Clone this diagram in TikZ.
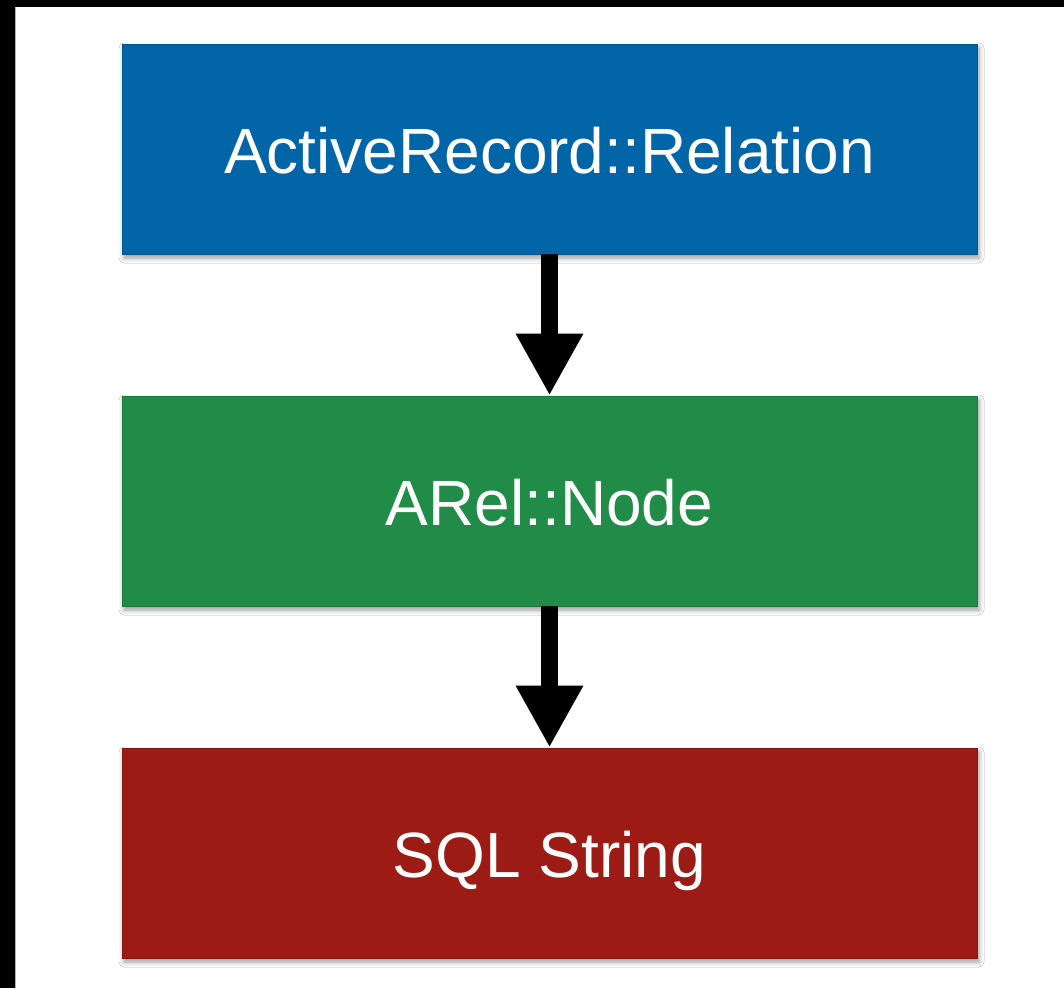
\documentclass[tikz,border=0pt]{standalone}
\usepackage{fontspec}
\setmainfont{Liberation Sans}
\usetikzlibrary{arrows.meta,shadows.blur}
\definecolor{relblue}{RGB}{2,101,167}
\definecolor{relgreen}{RGB}{32,140,72}
\definecolor{relred}{RGB}{156,27,20}
\tikzset{
  x=1pt, y=-1pt,
  stage/.style={rectangle, minimum width=855pt, minimum height=210pt,
    inner sep=0pt, text=white, font=\fontsize{64}{64}\selectfont,
    text height=49pt, text depth=0pt,
    blur shadow={shadow xshift=2pt, shadow yshift=-4pt,
      shadow blur radius=5pt, shadow opacity=40}},
  flow/.style={line width=17pt, -{Triangle[width=63pt,length=62pt]}}
}
\begin{document}
\begin{tikzpicture}
  % canvas with dark frame strips on the top and left edges
  \useasboundingbox (0,0) rectangle (1064,988);
  \fill[white] (0,0) rectangle (1064,988);
  \fill[black] (0,0) rectangle (1064,7);
  \fill[black] (0,0) rectangle (15,988);
  \draw[black!30, line width=1pt] (15.5,7) -- (15.5,988);

  % the three stages of query building
  \node[stage, fill=relblue, draw=relblue!85!black, line width=0.8pt] (relation) at (549.5,149) {ActiveRecord::Relation};
  \node[stage, fill=relgreen, draw=relgreen!85!black, line width=0.8pt] (arel) at (549.5,501) {ARel::Node};
  \node[stage, fill=relred, draw=relred!85!black, line width=0.8pt] (sql) at (549.5,853) {SQL String};

  % conversions between stages
  \draw[flow] (relation.south) -- (arel.north);
  \draw[flow] (arel.south) -- (sql.north);
\end{tikzpicture}
\end{document}
